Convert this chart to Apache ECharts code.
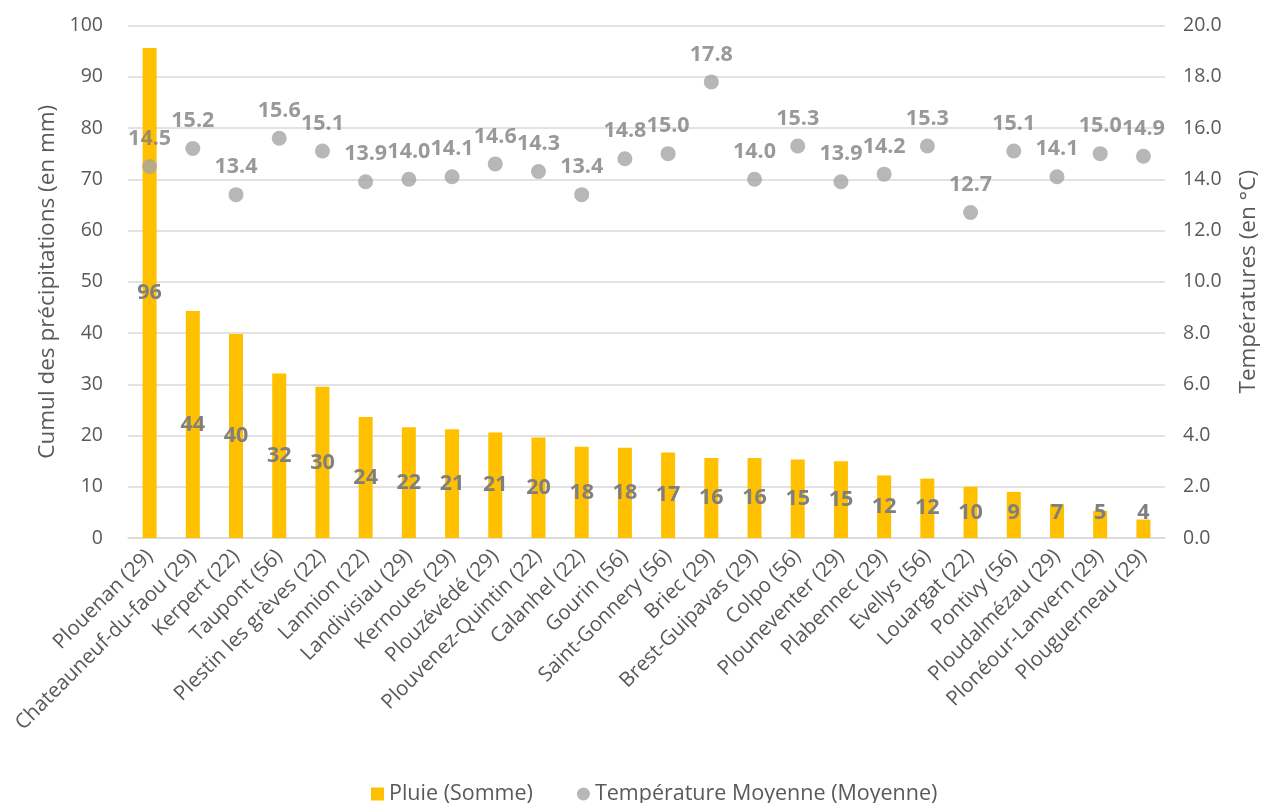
<!DOCTYPE html>
<html>
<head>
<meta charset="utf-8">
<script src="https://cdn.jsdelivr.net/npm/echarts@6/dist/echarts.min.js"></script>
<style>
html,body{margin:0;padding:0;background:#fff;}
#chart{width:1263px;height:803px;}
</style>
</head>
<body>
<div id="chart"></div>
<script>
const categories = ["Plouenan (29)","Chateauneuf-du-faou (29)","Kerpert (22)","Taupont (56)","Plestin les grèves (22)","Lannion (22)","Landivisiau (29)","Kernoues (29)","Plouzévédé (29)","Plouvenez-Quintin (22)","Calanhel (22)","Gourin (56)","Saint-Gonnery (56)","Briec (29)","Brest-Guipavas (29)","Colpo (56)","Plouneventer (29)","Plabennec (29)","Evellys (56)","Louargat (22)","Pontivy (56)","Ploudalmézau (29)","Plonéour-Lanvern (29)","Plouguerneau (29)"];
const pluie = [95.6,44.3,39.8,32.1,29.5,23.6,21.6,21.2,20.6,19.6,17.8,17.6,16.7,15.6,15.6,15.3,15.0,12.2,11.6,10.0,9.0,6.6,5.3,3.6];
const temperature = [14.5,15.2,13.4,15.6,15.1,13.9,14.0,14.1,14.6,14.3,13.4,14.8,15.0,17.8,14.0,15.3,13.9,14.2,15.3,12.7,15.1,14.1,15.0,14.9];
const leftTicks = {min:0,max:100,interval:10};
const rightTicks = {min:0,max:20,interval:2};

const FONT = "Open Sans";
const TXT = "#595959";
const LBL = "#7f7f7f";

const chart = echarts.init(document.getElementById('chart'), null, {renderer:'canvas'});
const option = {
  backgroundColor:'#ffffff',
  animation:false,
  textStyle:{fontFamily:FONT},
  grid:{left:128,right:98,top:25.5,bottom:265,containLabel:false,outerBoundsMode:'none'},
  legend:{
    left:366, top:778,
    itemGap:44, itemWidth:13, itemHeight:13,
    textStyle:{fontFamily:FONT,fontSize:21.5,color:TXT},
    data:[{name:'Pluie (Somme)',icon:'rect'},{name:'Température Moyenne (Moyenne)',icon:'circle'}]
  },
  xAxis:{
    type:'category', data:categories,
    axisLine:{lineStyle:{color:'#d9d9d9',width:1.5}},
    axisTick:{show:false},
    axisLabel:{rotate:45,interval:0,margin:15,fontFamily:FONT,fontSize:20.5,color:TXT}
  },
  yAxis:[
    {type:'value',min:leftTicks.min,max:leftTicks.max,interval:leftTicks.interval,
     name:'Cumul des précipitations (en mm)',nameLocation:'middle',nameGap:68,
     nameTextStyle:{fontFamily:FONT,fontSize:22.5,color:TXT},
     axisLine:{show:false},axisTick:{show:false},
     axisLabel:{fontFamily:FONT,fontSize:19.5,color:TXT,margin:25},
     splitLine:{lineStyle:{color:'#d9d9d9',width:1.5}}},
    {type:'value',min:rightTicks.min,max:rightTicks.max,interval:rightTicks.interval,
     name:'Températures (en °C)',nameLocation:'middle',nameGap:72,
     nameTextStyle:{fontFamily:FONT,fontSize:22.5,color:TXT},
     axisLine:{show:false},axisTick:{show:false},
     axisLabel:{fontFamily:FONT,fontSize:19.5,color:TXT,margin:18,formatter:v=>v.toFixed(1)},
     splitLine:{show:false}}
  ],
  series:[
    {name:'Pluie (Somme)',type:'bar',yAxisIndex:0,barWidth:14,
     itemStyle:{color:'#FFC000'},
     data:pluie.map(v=>({value:v,label: v<10.5 ? {position:'insideBottom',distance:14} : {position:'inside'}})),
     label:{show:true,fontFamily:FONT,fontSize:21.5,fontWeight:'bold',color:LBL,formatter:p=>Math.round(p.value)},
     z:2},
    {name:'Température Moyenne (Moyenne)',type:'scatter',yAxisIndex:1,symbol:'circle',symbolSize:15,
     itemStyle:{color:'#A5A5A5'},
     data:temperature,
     label:{show:true,position:'top',distance:9,fontFamily:FONT,fontSize:21.5,fontWeight:'bold',color:LBL,formatter:p=>p.value.toFixed(1)},
     z:3}
  ]
};
chart.setOption(option);
</script>
</body>
</html>
